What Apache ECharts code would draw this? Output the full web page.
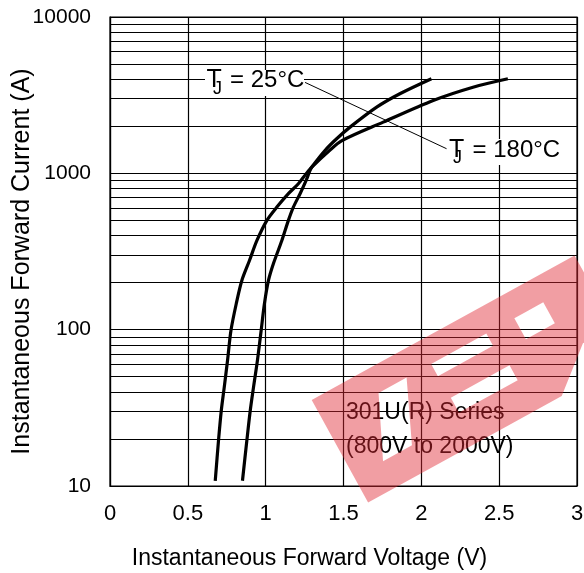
<!DOCTYPE html>
<html>
<head>
<meta charset="utf-8">
<script src="https://cdn.jsdelivr.net/npm/echarts@6/dist/echarts.min.js"></script>
<style>
  html, body { margin: 0; padding: 0; background: #fff; }
  #chart { width: 584px; height: 573px; }
</style>
</head>
<body>
<div id="chart"></div>
<script>
// forward characteristics (V, A)
const vf180 = [0.676, 0.697, 0.715, 0.734, 0.755, 0.777, 0.811, 0.847, 0.896, 0.944, 1.008, 1.072, 1.146, 1.21, 1.26, 1.298, 1.41, 1.49, 1.755, 2.076, 2.332, 2.556];
const if180 = [10.8, 19.5, 30.4, 42.9, 63.5, 98.8, 146.5, 206.5, 277, 372, 500, 608, 741, 858, 994, 1100, 1400, 1620, 2126, 2926, 3558, 4030];
const vf25 = [0.851, 0.879, 0.901, 0.922, 0.947, 0.971, 0.992, 1.018, 1.05, 1.104, 1.146, 1.178, 1.221, 1.26, 1.285, 1.3, 1.381, 1.456, 1.542, 1.713, 1.862, 2.065];
const if25 = [10.8, 19.5, 30.4, 42.9, 63.5, 98.8, 146.5, 206.5, 265, 372, 500, 608, 741, 901, 1044, 1110, 1401, 1665, 1975, 2652, 3230, 4030];

const voltTicks = [0, 0.5, 1, 1.5, 2, 2.5, 3];
const currentTicks = [10, 100, 1000, 10000];
// log grid lines between the decades
const minorCurrents = [20, 30, 40, 50, 60, 70, 80, 90,
  200, 300, 400, 500, 600, 700, 800, 900,
  2000, 3000, 4000, 5000, 6000, 7000, 8000, 9000];
// leader line from the labels (V, A)
const leaderStart = [1.253, 3816];
const leaderEnd = [2.162, 1437];

const FONT = 'Liberation Sans, Arial, sans-serif';
const zip = (xs, ys) => xs.map((x, i) => [x, ys[i]]);

const chart = echarts.init(document.getElementById('chart'), null, { renderer: 'canvas' });

// watermark logo outline in its own frame (u along the band, v across), holes wound the other way
const wmLocal = [[0,0],[62,0],[62,26],[33,88],[66,88],[94,26],[62,26],[62,0],
  [150,0],[150,26],[122,26],[122,40],[185,40],[185,26],[150,26],[150,0],
  [230,0],[230,26],[217,26],[217,50],[250,50],[250,26],[230,26],[230,0],
  [300,0],[300,81],[265,81],[221,117],[160,117],[160,82],[190,82],[190,65],
  [123,65],[123,82],[160,82],[160,117],[0,117]];
const wmAngle = 0.503;
const wmOrigin = [311.7, 400];
const wmPoints = wmLocal.map(([u, v]) => [
  wmOrigin[0] + u * Math.cos(wmAngle) + v * Math.sin(wmAngle),
  wmOrigin[1] - u * Math.sin(wmAngle) + v * Math.cos(wmAngle)
]);

function label(x, y, main, sub, rest, subDx, subDy) {
  return [
    { type: 'text', z: 11, x: x + subDx, y: y + subDy,
      style: { text: sub, fontSize: 18, fontFamily: FONT, fill: '#000', align: 'left', verticalAlign: 'middle' } },
    { type: 'text', z: 11, x: x, y: y,
      style: { text: main, fontSize: 25, fontFamily: FONT, fill: '#000', align: 'left', verticalAlign: 'middle' } },
    { type: 'text', z: 11, x: x + 23.5, y: y,
      style: { text: rest, fontSize: 24, fontFamily: FONT, fill: '#000', align: 'left', verticalAlign: 'middle' } }
  ];
}

const noteStyle = { fontSize: 23, fontFamily: FONT, fill: '#000', align: 'left', verticalAlign: 'middle' };

const option = {
  backgroundColor: '#fff',
  animation: false,
  grid: {
    left: 110, right: 7, top: 17, bottom: 87,
    show: true, borderColor: '#000', borderWidth: 1.2,
    outerBoundsMode: 'none'
  },
  xAxis: {
    type: 'value',
    min: voltTicks[0],
    max: voltTicks[voltTicks.length - 1],
    interval: voltTicks[1] - voltTicks[0],
    name: 'Instantaneous Forward Voltage (V)',
    nameLocation: 'middle',
    nameGap: 61,
    nameMoveOverlap: false,
    nameTextStyle: { color: '#000', fontSize: 23, fontFamily: FONT, padding: [0, 68, 0, 0] },
    axisLine: { show: true, lineStyle: { color: '#000', width: 1.2 } },
    axisTick: { show: false },
    axisLabel: { color: '#000', fontSize: 22, fontFamily: FONT, margin: 17 },
    splitLine: { show: true, lineStyle: { color: '#000', width: 1.2 } }
  },
  yAxis: {
    type: 'log',
    logBase: 10,
    min: currentTicks[0],
    max: currentTicks[currentTicks.length - 1],
    name: 'Instantaneous Forward Current (A)',
    nameLocation: 'middle',
    nameRotate: 90,
    nameGap: 75,
    nameMoveOverlap: false,
    nameTextStyle: { color: '#000', fontSize: 25, fontFamily: FONT, padding: [0, 20, 0, 0] },
    axisLine: { show: true, lineStyle: { color: '#000', width: 1.2 } },
    axisTick: { show: false },
    axisLabel: {
      color: '#000', fontSize: 21, fontFamily: FONT, margin: 19,
      formatter: v => String(Math.round(v))
    },
    splitLine: { show: true, lineStyle: { color: '#000', width: 1.2 } }
  },
  series: [
    {
      name: 'TJ = 180°C',
      type: 'line',
      data: zip(vf180, if180),
      smooth: 0.3,
      showSymbol: false,
      lineStyle: { color: '#000', width: 3.2 },
      markLine: {
        silent: true,
        symbol: 'none',
        label: { show: false },
        lineStyle: { color: '#000', width: 1.2, type: 'solid' },
        emphasis: { disabled: true },
        data: minorCurrents.map(v => ({ yAxis: v }))
      },
      z: 3
    },
    {
      name: 'TJ = 25°C',
      type: 'line',
      data: zip(vf25, if25),
      smooth: 0.3,
      showSymbol: false,
      lineStyle: { color: '#000', width: 3.2 },
      markLine: {
        silent: true,
        symbol: 'none',
        label: { show: false },
        lineStyle: { color: '#000', width: 1, type: 'solid' },
        emphasis: { disabled: true },
        data: [[{ coord: leaderStart }, { coord: leaderEnd }]]
      },
      z: 3
    },
    {
      // series note with the watermark laid over it
      type: 'custom',
      silent: true,
      z: 50,
      clip: false,
      data: [[voltTicks[0], currentTicks[0]]],
      renderItem: () => ({
        type: 'group',
        children: [
          { type: 'text', x: 346, y: 413, style: Object.assign({ text: '301U(R) Series' }, noteStyle) },
          { type: 'text', x: 346, y: 447, style: Object.assign({ text: '(800V to 2000V)' }, noteStyle) },
          { type: 'polygon', shape: { points: wmPoints }, style: { fill: 'rgba(225,40,50,0.45)' } }
        ]
      })
    }
  ],
  graphic: {
    elements: [
      // white boxes behind the labels
      { type: 'rect', z: 10, shape: { x: 205, y: 70, width: 99, height: 26 }, style: { fill: '#fff' } },
      { type: 'rect', z: 10, shape: { x: 448, y: 139, width: 113, height: 26 }, style: { fill: '#fff' } },
      ...label(206.5, 80.5, 'T', 'J', '= 25°C', 6.5, 8.5),
      ...label(449, 150.5, 'T', 'J', '= 180°C', 4, 7.5)
    ]
  }
};

chart.setOption(option);
</script>
</body>
</html>
